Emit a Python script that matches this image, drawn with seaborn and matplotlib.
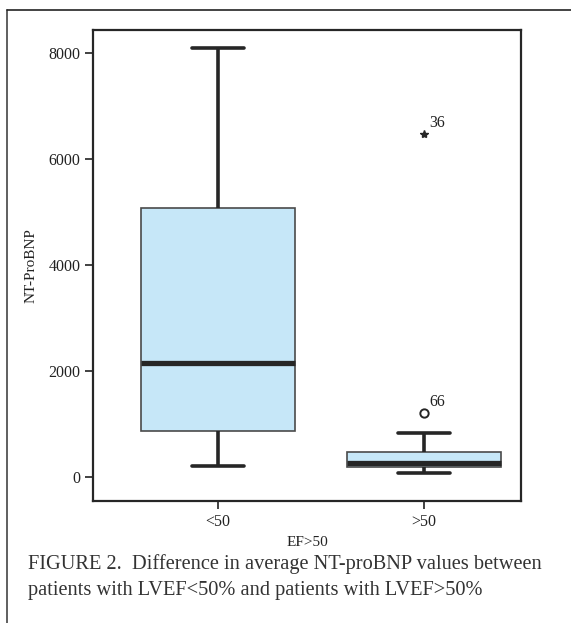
import numpy as np
import pandas as pd
import matplotlib
matplotlib.use("Agg")
import matplotlib.pyplot as plt
import seaborn as sns
from matplotlib.lines import Line2D

# five-number summaries (min, Q1, median, Q3, max)
groups = ["<50", ">50"]
box_lt50 = [207, 868, 2157, 5075, 8094]
box_gt50 = [81, 195, 262, 465, 824]

# outliers
out_group = [">50", ">50"]
out_value = [1200, 6465]
out_marker = ["o", "*"]
out_label = ["66", "36"]

sns.set_theme(style="white")
plt.rcParams["font.family"] = ["Liberation Serif", "DejaVu Serif"]

df = pd.DataFrame({
    "EF>50": [groups[0]] * len(box_lt50) + [groups[1]] * len(box_gt50),
    "NT-ProBNP": box_lt50 + box_gt50,
})

fig = plt.figure(figsize=(5.71, 6.23), dpi=100)
ax = fig.add_axes([93 / 571, 1 - 501 / 623, 428 / 571, 471 / 623])

sns.boxplot(data=df, x="EF>50", y="NT-ProBNP", order=groups, ax=ax,
            whis=(0, 100), width=0.75, color="#C6E7F8", saturation=1,
            showfliers=False, capwidths=0.25,
            boxprops=dict(edgecolor="#4a4a4a", linewidth=1.2),
            whiskerprops=dict(color="#262626", linewidth=2.6),
            capprops=dict(color="#262626", linewidth=2.6),
            medianprops=dict(color="#262626", linewidth=3.8))

# outliers with case labels
for g, v, m, lab in zip(out_group, out_value, out_marker, out_label):
    xpos = groups.index(g)
    if m == "o":
        ax.plot(xpos, v, marker="o", ms=6, mfc="white", mec="#262626", mew=1.4)
    else:
        ax.plot(xpos, v, marker="*", ms=6, color="#262626")
    ax.annotate(lab, (xpos, v), xytext=(4, 5), textcoords="offset points",
                fontsize=11.5, color="#222222")

ax.set_ylim(-453, 8434)
ax.set_xlim(-0.607, 1.471)
ax.set_yticks([0, 2000, 4000, 6000, 8000])
ax.tick_params(axis="both", which="both", direction="out", length=6, width=1.3,
               color="#333333", labelsize=11.5, labelcolor="#222222",
               left=True, bottom=True, pad=3)
ax.set_ylabel("NT-ProBNP", fontsize=11, color="#222222", labelpad=8)
ax.set_xlabel("EF>50", fontsize=11, color="#222222", labelpad=5)
for s in ax.spines.values():
    s.set_linewidth(1.6)
    s.set_color("#262626")

# outer frame (left and top only)
fig.add_artist(Line2D([7 / 571, 7 / 571], [0, 1 - 10 / 623],
                      color="#444444", lw=1.2, transform=fig.transFigure))
fig.add_artist(Line2D([7 / 571, 1], [1 - 10 / 623, 1 - 10 / 623],
                      color="#222222", lw=1.2, transform=fig.transFigure))

fig.text(28 / 571, 1 - 554 / 623,
         "FIGURE 2.  Difference in average NT-proBNP values between\n"
         "patients with LVEF<50% and patients with LVEF>50%",
         fontsize=14.7, color="#333333", va="top", ha="left", linespacing=1.5)

fig.savefig("out.png", dpi=100)
